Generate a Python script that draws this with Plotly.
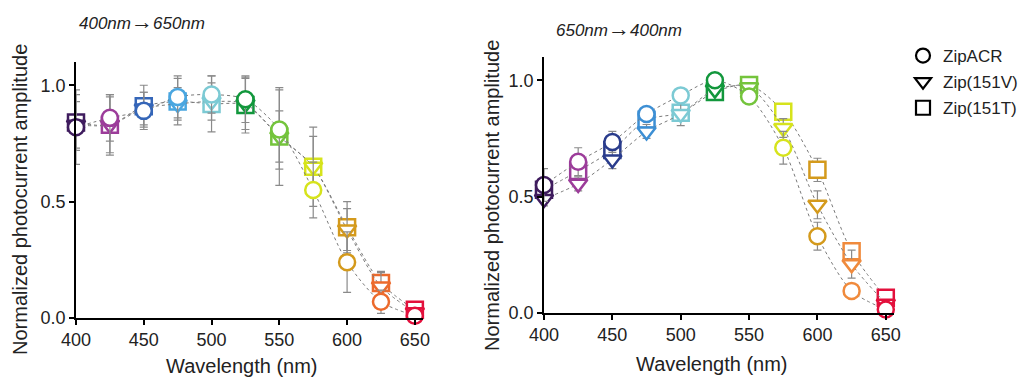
import plotly.graph_objects as go

# ---------------- data ----------------
wavelengths = [400, 425, 450, 475, 500, 525, 550, 575, 600, 625, 650]
series_names = ["ZipACR", "Zip(151V)", "Zip(151T)"]

# left panel: 400nm -> 650nm
left_acr = [0.82, 0.86, 0.89, 0.95, 0.96, 0.94, 0.81, 0.55, 0.24, 0.07, 0.01]
left_acr_err = [0.16, 0.10, 0.08, 0.09, 0.08, 0.10, 0.17, 0.12, 0.13, 0.05, 0.01]
left_v = [0.83, 0.83, 0.90, 0.92, 0.93, 0.92, 0.78, 0.65, 0.38, 0.135, 0.025]
left_v_err = [0.10, 0.12, 0.07, 0.07, 0.08, 0.11, 0.11, 0.13, 0.09, 0.06, 0.01]
left_t = [0.84, 0.83, 0.91, 0.93, 0.92, 0.915, 0.78, 0.65, 0.39, 0.15, 0.035]
left_t_err = [0.12, 0.13, 0.09, 0.10, 0.12, 0.12, 0.21, 0.17, 0.11, 0.05, 0.01]

# right panel: 650nm -> 400nm
right_acr = [0.55, 0.65, 0.735, 0.855, 0.935, 1.0, 0.93, 0.71, 0.33, 0.095, 0.015]
right_acr_err = [0.07, 0.06, 0.045, 0.03, 0.02, 0.01, 0.02, 0.07, 0.06, 0.01, 0.01]
right_v = [0.49, 0.555, 0.66, 0.78, 0.855, 0.96, 0.97, 0.795, 0.465, 0.21, 0.04]
right_v_err = [0.03, 0.03, 0.04, 0.03, 0.05, 0.02, 0.02, 0.04, 0.06, 0.06, 0.01]
right_t = [0.53, 0.61, 0.70, 0.83, 0.86, 0.95, 0.98, 0.865, 0.615, 0.265, 0.065]
right_t_err = [0.03, 0.04, 0.03, 0.02, 0.03, 0.02, 0.02, 0.03, 0.05, 0.03, 0.01]

x_ticks = [400, 450, 500, 550, 600, 650]
y_ticks = [0.0, 0.5, 1.0]
y_ticktext = ["0.0", "0.5", "1.0"]

# ---------------- styles ----------------
left_colors = ["#3f1c5e", "#9c3c9a", "#3566b8", "#4aa6e0", "#7ccad4", "#12973c",
               "#74c43c", "#d6e31c", "#d49a1c", "#ec6a2c", "#e3103c"]
right_colors = ["#3f1c5e", "#9c3c9a", "#2a3c8c", "#3d8fd4", "#7ccad4", "#12973c",
                "#74c43c", "#d6e31c", "#d49a1c", "#f08a3c", "#e3103c"]
symbols = {"ZipACR": "circle", "Zip(151V)": "triangle-down", "Zip(151T)": "square"}
FONT = "Liberation Sans, Arial, sans-serif"
GREY = "#8a8a8a"

# page is rendered with an 8px body margin: work in page pixels, convert to paper
OFF = 8
W, H = 1032 - OFF, 381 - OFF


def px(x):
    return (x - OFF) / W


def py(y):
    return 1 - (y - OFF) / H


fig = go.Figure()


def add_series(xa, ya, y, err, colors, name):
    fig.add_trace(go.Scatter(
        x=wavelengths, y=y, xaxis=xa, yaxis=ya, mode="lines+markers",
        line=dict(color="#7a7a7a", width=1, dash="dot", shape="spline", smoothing=0.8),
        marker=dict(symbol=symbols[name], size=16, color="white",
                    line=dict(color=colors, width=2.5)),
        error_y=dict(type="data", array=err, visible=True, color=GREY,
                     thickness=1.2, width=4),
        cliponaxis=False, showlegend=False, name=name,
    ))


for xa, ya, data, colors in [
    ("x", "y", [(left_t, left_t_err, "Zip(151T)"), (left_v, left_v_err, "Zip(151V)"),
                (left_acr, left_acr_err, "ZipACR")], left_colors),
    ("x2", "y2", [(right_t, right_t_err, "Zip(151T)"), (right_v, right_v_err, "Zip(151V)"),
                  (right_acr, right_acr_err, "ZipACR")], right_colors),
]:
    for y, err, name in data:
        add_series(xa, ya, y, err, colors, name)

# legend entries (black symbols)
for i, name in enumerate(series_names):
    fig.add_trace(go.Scatter(
        x=[None], y=[None], xaxis="x2", yaxis="y2", mode="markers", name=name,
        marker=dict(symbol=symbols[name], size=14, color="white",
                    line=dict(color="black", width=2.2)),
        legendgroup=name, showlegend=True,
    ))

axis_common = dict(showline=True, linecolor="black", linewidth=1.5, ticks="outside",
                   ticklen=5, tickwidth=1.5, tickcolor="black", showgrid=False,
                   zeroline=False, automargin=False,
                   tickfont=dict(family=FONT, size=18, color="#222"))

fig.update_layout(
    width=W, height=H, autosize=False,
    margin=dict(l=0, r=0, t=0, b=0, pad=0, autoexpand=False),
    paper_bgcolor="white", plot_bgcolor="white",
    font=dict(family=FONT, color="#222"),
    xaxis=dict(domain=[px(76), px(423)], range=[400, 656], tickvals=x_ticks,
               anchor="y", **axis_common),
    yaxis=dict(domain=[py(318), py(62)], range=[0, 1.1], tickvals=y_ticks,
               ticktext=y_ticktext, anchor="x", **axis_common),
    xaxis2=dict(domain=[px(544), px(894)], range=[400, 656], tickvals=x_ticks,
                anchor="y2", **axis_common),
    yaxis2=dict(domain=[py(313), py(57)], range=[0, 1.1], tickvals=y_ticks,
                ticktext=y_ticktext, anchor="x2", **axis_common),
    legend=dict(x=px(903), y=py(38), xanchor="left", yanchor="top",
                font=dict(family=FONT, size=17, color="#222"), itemwidth=30,
                tracegroupgap=1, bgcolor="rgba(0,0,0,0)"),
)

arrow = '<span style="font-size:22px">\u2192</span>'
annotations = [
    dict(text="Normalized photocurrent amplitude", x=20, y=200, textangle=-90, size=20),
    dict(text="Normalized photocurrent amplitude", x=492, y=196, textangle=-90, size=20),
    dict(text="Wavelength (nm)", x=242, y=366, textangle=0, size=20),
    dict(text="Wavelength (nm)", x=712, y=364, textangle=0, size=20),
    dict(text="<i>400nm" + arrow + "650nm</i>", x=142, y=21, textangle=0, size=17),
    dict(text="<i>650nm" + arrow + "400nm</i>", x=619, y=28, textangle=0, size=17),
]
for a in annotations:
    fig.add_annotation(text=a["text"], x=px(a["x"]), y=py(a["y"]),
                       xref="paper", yref="paper", xanchor="center", yanchor="middle",
                       textangle=a["textangle"], showarrow=False,
                       font=dict(family=FONT, size=a["size"], color="#222"))

fig.write_html("out.html")
